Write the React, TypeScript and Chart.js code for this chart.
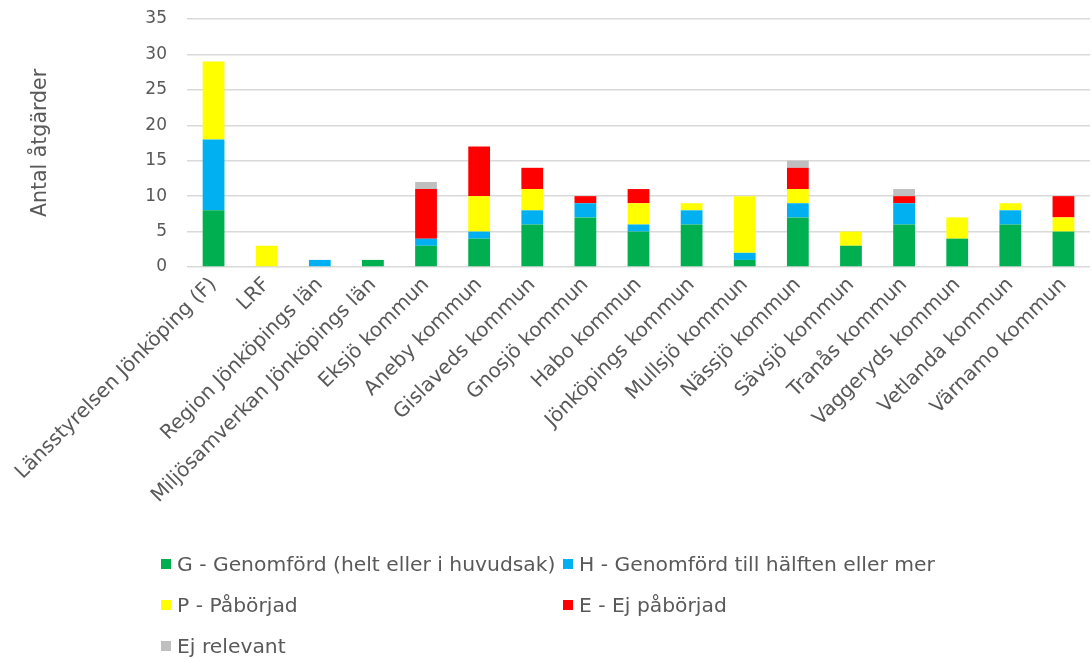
import React, { useEffect, useRef } from "react";
import { Chart, registerables } from "chart.js";

Chart.register(...registerables);

const categories = [
  "Länsstyrelsen Jönköping (F)",
  "LRF",
  "Region Jönköpings län",
  "Miljösamverkan Jönköpings län",
  "Eksjö kommun",
  "Aneby kommun",
  "Gislaveds kommun",
  "Gnosjö kommun",
  "Habo kommun",
  "Jönköpings kommun",
  "Mullsjö kommun",
  "Nässjö kommun",
  "Sävsjö kommun",
  "Tranås kommun",
  "Vaggeryds kommun",
  "Vetlanda kommun",
  "Värnamo kommun",
];

const genomford = [8, 0, 0, 1, 3, 4, 6, 7, 5, 6, 1, 7, 3, 6, 4, 6, 5];
const halften = [10, 0, 1, 0, 1, 1, 2, 2, 1, 2, 1, 2, 0, 3, 0, 2, 0];
const paborjad = [11, 3, 0, 0, 0, 5, 3, 0, 3, 1, 8, 2, 2, 0, 3, 1, 2];
const ejPaborjad = [0, 0, 0, 0, 7, 7, 3, 1, 2, 0, 0, 3, 0, 1, 0, 0, 3];
const ejRelevant = [0, 0, 0, 0, 1, 0, 0, 0, 0, 0, 0, 1, 0, 1, 0, 0, 0];

const seriesLabels = [
  "G - Genomförd (helt eller i huvudsak)",
  "H - Genomförd till hälften eller mer",
  "P - Påbörjad",
  "E - Ej påbörjad",
  "Ej relevant",
];
const seriesColors = ["#00B050", "#00B0F0", "#FFFF00", "#FF0000", "#BFBFBF"];

const yTitle = "Antal åtgärder";
const FONT = '"DejaVu Sans", sans-serif';
const TEXT = "#595959";

export default function App() {
  const ref = useRef<HTMLCanvasElement | null>(null);

  useEffect(() => {
    if (!ref.current) return;
    const values = [genomford, halften, paborjad, ejPaborjad, ejRelevant];
    const chart = new Chart(ref.current, {
      type: "bar",
      data: {
        labels: categories,
        datasets: values.map((d, i) => ({
          label: seriesLabels[i],
          data: d,
          backgroundColor: seriesColors[i],
          borderWidth: 0,
          categoryPercentage: 1,
          barPercentage: 0.41,
        })),
      },
      options: {
        responsive: true,
        maintainAspectRatio: false,
        animation: false,
        layout: { padding: { left: 28, top: 19, right: 2, bottom: 0 } },
        plugins: {
          legend: { display: false },
          tooltip: { enabled: false },
        },
        scales: {
          x: {
            stacked: true,
            grid: { display: false, drawTicks: false },
            border: { display: false },
            ticks: {
              autoSkip: false,
              maxRotation: 45,
              minRotation: 45,
              padding: 6,
              color: TEXT,
              font: { family: FONT, size: 20 },
            },
            afterFit: (s: any) => {
              s.height = 659 - 267;
            },
          },
          y: {
            stacked: true,
            min: 0,
            max: 35,
            ticks: {
              stepSize: 5,
              padding: 0,
              color: TEXT,
              font: { family: FONT, size: 17 },
            },
            grid: {
              color: "#D9D9D9",
              lineWidth: 1.5,
              drawTicks: true,
              tickLength: 20,
              tickColor: "rgba(0,0,0,0)",
            },
            border: { display: false },
            title: {
              display: true,
              text: yTitle,
              color: TEXT,
              font: { family: FONT, size: 20.5 },
              padding: { top: 0, bottom: 2 },
            },
            afterFit: (s: any) => {
              s.width = 187 - 28;
            },
          },
        },
      },
    });
    return () => chart.destroy();
  }, []);

  const legendPos = [
    { x: 161, y: 564 },
    { x: 563, y: 564 },
    { x: 161, y: 605 },
    { x: 563, y: 605 },
    { x: 161, y: 646 },
  ];

  return (
    <div style={{ position: "absolute", left: 0, top: 0, width: 1092, height: 659 }}>
      <canvas ref={ref} />
      {seriesLabels.map((l, i) => (
        <div
          key={l}
          style={{
            position: "absolute",
            left: legendPos[i].x,
            top: legendPos[i].y - 12,
            height: 24,
            display: "flex",
            alignItems: "center",
            fontFamily: FONT,
            fontSize: 20.3,
            color: TEXT,
            whiteSpace: "nowrap",
          }}
        >
          <span
            style={{
              display: "inline-block",
              width: 10,
              height: 10,
              background: seriesColors[i],
              marginRight: 6,
            }}
          />
          {l}
        </div>
      ))}
    </div>
  );
}
